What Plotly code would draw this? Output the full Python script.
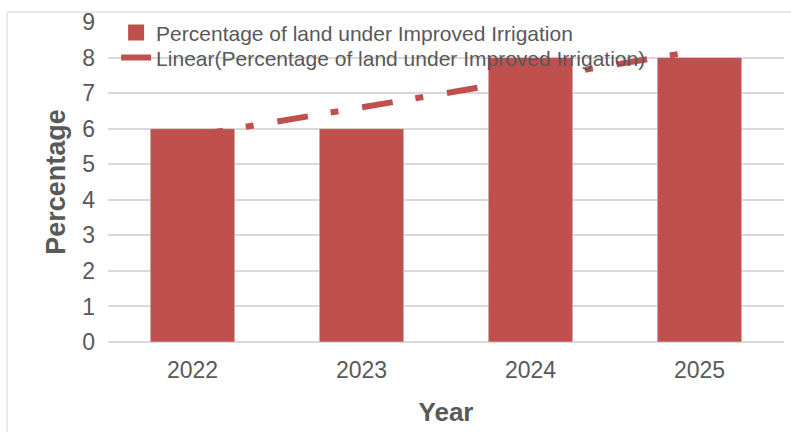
import numpy as np
import plotly.graph_objects as go

# Chart data
years = ["2022", "2023", "2024", "2025"]
irrigation_pct = [6, 6, 8, 8]
series_name = "Percentage of land under Improved Irrigation"
trend_name = "Linear(Percentage of land under Improved Irrigation)"
y_ticks = list(range(0, 10))

BAR_RED = "#C0504D"
TEXT_GREY = "#595959"
GRID_GREY = "#D9D9D9"
FONT = "Liberation Sans, Arial, sans-serif"

# Least-squares linear trend across the category positions
idx = np.arange(len(years))
slope, intercept = np.polyfit(idx, irrigation_pct, 1)
trend_vals = slope * idx + intercept

fig = go.Figure()

fig.add_trace(go.Bar(
    x=years,
    y=irrigation_pct,
    name=series_name,
    marker=dict(color=BAR_RED),
    width=0.5,
    showlegend=False,
))

# Legend key for the bars, drawn as a larger square swatch
fig.add_trace(go.Scatter(
    x=[None], y=[None],
    mode="markers",
    name=series_name,
    marker=dict(symbol="square", size=18, color=BAR_RED),
    legend="legend",
))

fig.add_trace(go.Scatter(
    x=years,
    y=trend_vals,
    mode="lines",
    name=trend_name,
    line=dict(color=BAR_RED, width=6, dash="31px,23px,8px,24px"),
    legend="legend2",
))

# Light frame around the chart
fig.add_shape(type="line", xref="paper", yref="paper",
              x0=-0.1494, x1=1.05, y0=1.031, y1=1.031,
              line=dict(color="#E3E3E3", width=1.5), layer="below")
fig.add_shape(type="line", xref="paper", yref="paper",
              x0=-0.1494, x1=-0.1494, y0=1.031, y1=-0.35,
              line=dict(color="#E3E3E3", width=1.5), layer="below")

legend_common = dict(
    xanchor="left", yanchor="top",
    bgcolor="rgba(0,0,0,0)",
    font=dict(size=21, color=TEXT_GREY, family=FONT),
    itemsizing="trace",
)

fig.update_layout(
    width=791,
    height=432,
    margin=dict(l=108, r=7, t=22, b=90),
    paper_bgcolor="white",
    plot_bgcolor="white",
    font=dict(family=FONT, color=TEXT_GREY),
    showlegend=True,
    legend=dict(x=0.012, y=1.03, **legend_common),
    legend2=dict(x=0.012, y=0.952, **legend_common),
    xaxis=dict(
        showgrid=False,
        showline=False,
        zeroline=False,
        tickfont=dict(size=23, color=TEXT_GREY),
        ticklabelstandoff=12,
        title=dict(text="<b>Year</b>", font=dict(size=26, color=TEXT_GREY), standoff=20),
    ),
    yaxis=dict(
        range=[0, 9],
        tickvals=y_ticks,
        showgrid=True,
        gridcolor=GRID_GREY,
        gridwidth=1.5,
        zeroline=True,
        zerolinecolor=GRID_GREY,
        zerolinewidth=1.5,
        showline=False,
        tickfont=dict(size=23, color=TEXT_GREY),
        ticklabelstandoff=12,
        title=dict(text="<b>Percentage</b>", font=dict(size=27, color=TEXT_GREY), standoff=8),
    ),
)

fig.write_html("out.html")
